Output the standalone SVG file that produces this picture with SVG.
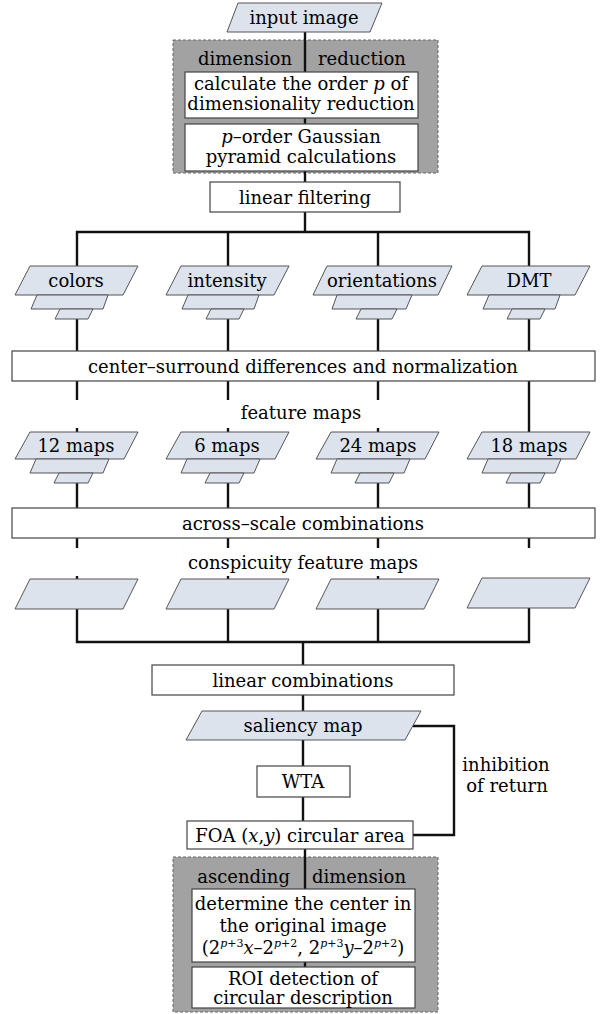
<svg xmlns="http://www.w3.org/2000/svg" width="607" height="1014" viewBox="0 0 607 1014">
<defs>
<style>
text{font-family:"DejaVu Serif","Liberation Serif",serif;font-size:18px;fill:#000}
.c{text-anchor:middle}
.i{font-style:italic}
.box{fill:#fff;stroke:#444;stroke-width:1.2}
.para{fill:#dce3ed;stroke:#555;stroke-width:1}
.gray{fill:#a2a2a2;stroke:#666;stroke-width:1;stroke-dasharray:3 2}
.ln{fill:none;stroke:#111;stroke-width:2.4}
.sup{font-size:11px}
</style>
<g id="stack">
<polygon class="para" points="-47,0 61,0 46,29 -62,29"/>
<polygon class="para" points="-40,29 31,29 26,43 -46,43"/>
<polygon class="para" points="-17,43 16,43 11,53 -22,53"/>
</g>
<g id="stackW">
<polygon class="para" points="-51,0 74,0 60,29 -65,29"/>
<polygon class="para" points="-41,29 34,29 28,43 -46,43"/>
<polygon class="para" points="-17,43 19,43 14,53 -22,53"/>
</g>
<g id="stack2">
<polygon class="para" points="-47,0 61,0 47,27 -62,27"/>
<polygon class="para" points="-41,27 32,27 26,41 -47,41"/>
<polygon class="para" points="-18,41 16,41 11,51 -23,51"/>
</g>
<polygon id="cons" class="para" points="-47,0 61,0 46,30 -62,30"/>
</defs>
<rect width="607" height="1014" fill="#fff"/>

<g id="grayboxes">
<rect class="gray" x="173" y="40" width="265" height="133"/>
<rect class="gray" x="173" y="857" width="265" height="155"/>
</g>

<g id="connectors">
<path class="ln" d="M305,32 V182"/>
<path class="ln" d="M305,212 V232 M77,266 V232 H529 V266 M228,232 V266 M378,232 V266"/>
<path class="ln" d="M77,319 V351 M228,319 V351 M378,319 V351 M529,319 V351"/>
<path class="ln" d="M77,381 V400 M228,381 V400 M378,381 V400 M529,381 V432"/>
<path class="ln" d="M77,428 V432 M228,428 V432 M378,428 V432" stroke-width="1.5"/>
<path class="ln" d="M77,483 V508 M228,483 V508 M378,483 V508 M529,483 V508"/>
<path class="ln" d="M77,538 V548 M228,538 V548 M378,538 V548 M529,538 V548"/>
<path class="ln" d="M77,576 V579 M228,576 V579 M378,576 V579" stroke-width="1.5"/>
<path class="ln" d="M77,609 V642 H529 V608 M228,609 V642 M378,609 V642 M303,642 V665"/>
<path class="ln" d="M303,695 V711 M303,740 V766 M303,797 V821"/>
<path class="ln" d="M413,726 H454 V835 H413"/>
<path class="ln" d="M305,849 V889 M305,962 V967"/>
</g>

<g id="input">
<polygon class="para" points="238,3 382,3 370,32 227,32"/>
<text class="c" x="304" y="24">input image</text>
</g>

<g id="reduction">
<text x="292" y="65" text-anchor="end">dimension</text>
<text x="318" y="65">reduction</text>
</g>
<g id="calcorder">
<rect class="box" x="185" y="72" width="233" height="46"/>
<text class="c" x="301" y="90">calculate the order <tspan class="i">p</tspan> of</text>
<text class="c" x="301" y="110">dimensionality reduction</text>
</g>
<g id="gaussian">
<rect class="box" x="185" y="124" width="233" height="47"/>
<text class="c" x="301" y="143"><tspan class="i">p</tspan>–order Gaussian</text>
<text class="c" x="301" y="163">pyramid calculations</text>
</g>

<g id="linfilter">
<rect class="box" x="210" y="182" width="190" height="30"/>
<text class="c" x="305" y="204">linear filtering</text>
</g>

<g id="colors"><use href="#stack" x="77" y="266"/><text class="c" x="76" y="287">colors</text></g>
<g id="intensity"><use href="#stack" x="228" y="266"/><text class="c" x="227" y="287">intensity</text></g>
<g id="orientations"><use href="#stackW" x="378" y="266"/><text class="c" x="382" y="287">orientations</text></g>
<g id="dmt"><use href="#stack" x="529" y="266"/><text class="c" x="529" y="287">DMT</text></g>

<g id="centersurround">
<rect class="box" x="12" y="351" width="583" height="30"/>
<text class="c" x="303" y="373">center–surround differences and normalization</text>
</g>
<g id="featuremapslabel"><text class="c" x="301" y="419">feature maps</text></g>

<g id="m12"><use href="#stack2" x="77" y="432"/><text class="c" x="76" y="452">12 maps</text></g>
<g id="m6"><use href="#stack2" x="228" y="432"/><text class="c" x="227" y="452">6 maps</text></g>
<g id="m24"><use href="#stack2" x="378" y="432"/><text class="c" x="378" y="452">24 maps</text></g>
<g id="m18"><use href="#stack2" x="529" y="432"/><text class="c" x="529" y="452">18 maps</text></g>

<g id="acrossscale">
<rect class="box" x="12" y="508" width="583" height="30"/>
<text class="c" x="303" y="530">across–scale combinations</text>
</g>
<g id="conspicuitylabel"><text class="c" x="303" y="569">conspicuity feature maps</text></g>

<g id="c1"><use href="#cons" x="77" y="579"/></g>
<g id="c2"><use href="#cons" x="228" y="579"/></g>
<g id="c3"><use href="#cons" x="378" y="579"/></g>
<g id="c4"><use href="#cons" x="529" y="578"/></g>

<g id="lincomb">
<rect class="box" x="152" y="665" width="302" height="30"/>
<text class="c" x="303" y="687">linear combinations</text>
</g>
<g id="saliency">
<polygon class="para" points="202,711 421,711 405,740 186,740"/>
<text class="c" x="303" y="732">saliency map</text>
</g>
<g id="wta">
<rect class="box" x="257" y="766" width="93" height="31"/>
<text class="c" x="303" y="788">WTA</text>
</g>
<g id="foa">
<rect class="box" x="187" y="821" width="226" height="28"/>
<text class="c" x="300" y="842">FOA (<tspan class="i">x</tspan>,<tspan class="i">y</tspan>) circular area</text>
</g>
<g id="inhibition">
<text class="c" x="506" y="771">inhibition</text>
<text class="c" x="507" y="792">of return</text>
</g>

<g id="ascending">
<text x="290" y="883" text-anchor="end">ascending</text>
<text x="312" y="883">dimension</text>
</g>
<g id="center">
<rect class="box" x="192" y="889" width="223" height="73"/>
<text class="c" x="303" y="910">determine the center in</text>
<text class="c" x="303" y="932">the original image</text>
<text class="c" x="303" y="954">(2<tspan class="sup i" dy="-7">p</tspan><tspan class="sup" dy="0">+3</tspan><tspan class="i" dy="7">x</tspan>–2<tspan class="sup i" dy="-7">p</tspan><tspan class="sup">+2</tspan><tspan dy="7">, 2</tspan><tspan class="sup i" dy="-7">p</tspan><tspan class="sup">+3</tspan><tspan class="i" dy="7">y</tspan>–2<tspan class="sup i" dy="-7">p</tspan><tspan class="sup">+2</tspan><tspan dy="7">)</tspan></text>
</g>
<g id="roi">
<rect class="box" x="192" y="967" width="223" height="41"/>
<text class="c" x="303" y="985">ROI detection of</text>
<text class="c" x="303" y="1004">circular description</text>
</g>
</svg>
